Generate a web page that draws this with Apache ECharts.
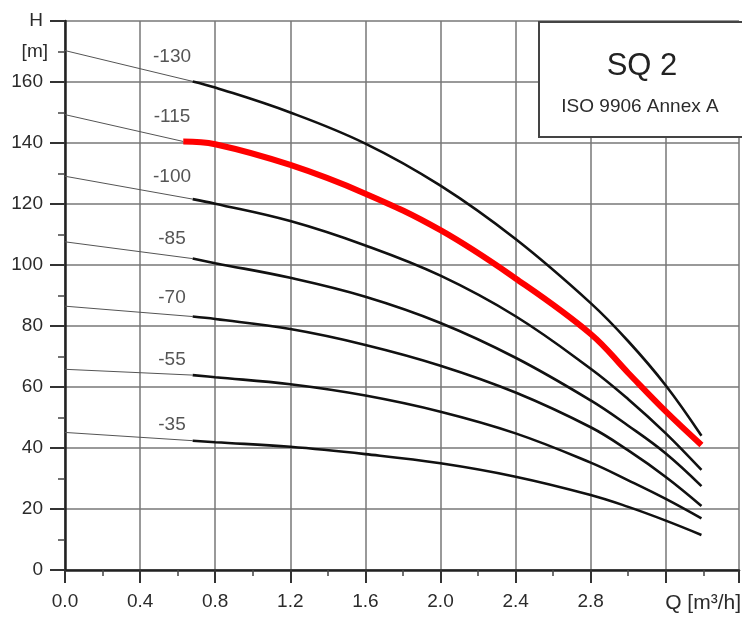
<!DOCTYPE html>
<html>
<head>
<meta charset="utf-8">
<script src="https://cdn.jsdelivr.net/npm/echarts@6/dist/echarts.min.js"></script>
<style>
html,body{margin:0;padding:0;background:#fff;}
#chart{width:742px;height:619px;}
</style>
</head>
<body>
<div id="chart"></div>
<script>
// ---- data ----
const curveNames = ['-130', '-115', '-100', '-85', '-70', '-55', '-35'];
// head at Q = 0 (start of thin extension line)
const hShutoff = [170.3, 149.3, 129.1, 107.6, 86.5, 65.8, 45.1];
// start of the drawn (thick) curve
const qStart = [0.68, 0.63, 0.68, 0.68, 0.68, 0.68, 0.68];
const hStart = [160.2, 140.5, 121.6, 102.1, 83.1, 63.9, 42.4];
// common flow points along the thick curves
const qPoints = [0.8, 1.2, 1.6, 2.0, 2.4, 2.8, 3.0, 3.2, 3.39];
const h130 = [158.2, 150.0, 139.8, 126.0, 108.5, 87.5, 75.0, 60.5, 44.0];
const h115 = [139.6, 132.8, 123.4, 111.4, 95.6, 77.4, 64.6, 52.0, 41.0];
const h100 = [120.1, 114.4, 106.4, 96.5, 83.2, 66.0, 56.0, 44.8, 32.8];
const h85  = [100.6, 95.8, 89.6, 81.0, 69.6, 55.6, 47.3, 38.2, 27.5];
const h70  = [82.3, 79.0, 73.8, 67.0, 58.2, 46.8, 39.2, 30.5, 21.0];
const h55  = [63.2, 60.9, 57.2, 51.9, 44.8, 35.2, 29.4, 23.3, 16.9];
const h35  = [41.9, 40.4, 38.0, 35.0, 30.6, 24.6, 20.7, 16.2, 11.5];
const heads = [h130, h115, h100, h85, h70, h55, h35];
const highlighted = '-115';
// curve label anchors
const labelQ = 0.57;
const labelH = [168.2, 148.5, 128.9, 108.5, 89.2, 68.9, 47.5];
// axis ticks
const xTicks = {min: 0, max: 3.59, interval: 0.4};
const yTicks = {min: 0, max: 180, interval: 20};

const FONT = 'Liberation Sans, Arial, Helvetica, sans-serif';
const TXT = '#2b2b2b';
const chart = echarts.init(document.getElementById('chart'), null, {renderer: 'canvas'});

const series = [];
curveNames.forEach((name, i) => {
  series.push({
    type: 'line', silent: true, symbol: 'none', z: 3,
    data: [[0, hShutoff[i]], [qStart[i], hStart[i]]],
    lineStyle: {color: '#555', width: 1}
  });
  const isRed = name === highlighted;
  series.push({
    type: 'line', silent: true, symbol: 'none', smooth: 0.4,
    z: isRed ? 6 : 4,
    data: [[qStart[i], hStart[i]]].concat(qPoints.map((q, j) => [q, heads[i][j]])),
    lineStyle: {color: isRed ? '#ff0000' : '#111', width: isRed ? 6 : 2.6, cap: 'butt'}
  });
});
series.push({
  type: 'scatter', silent: true, symbolSize: 1, z: 7,
  itemStyle: {color: 'rgba(0,0,0,0)'},
  data: labelH.map((h, i) => [labelQ, h, curveNames[i]]),
  label: {show: true, position: 'inside', formatter: p => p.data[2],
          color: TXT, fontSize: 19, fontFamily: FONT}
});

chart.setOption({
  animation: false,
  backgroundColor: '#fff',
  grid: {left: 65, top: 21, right: 0, height: 549},
  xAxis: {
    type: 'value', min: xTicks.min, max: xTicks.max, interval: xTicks.interval,
    axisLine: {show: true, onZero: false, lineStyle: {color: '#222', width: 2.5}},
    axisTick: {show: true, length: 13, lineStyle: {color: '#333', width: 2}},
    minorTick: {show: true, splitNumber: 2, length: 6, lineStyle: {color: '#444', width: 1.5}},
    splitLine: {show: true, lineStyle: {color: '#777', width: 1.5}},
    axisLabel: {margin: 22, fontSize: 19, color: TXT, fontFamily: FONT,
                formatter: v => v > 3.1 ? '' : v.toFixed(1)}
  },
  yAxis: {
    type: 'value', min: yTicks.min, max: yTicks.max, interval: yTicks.interval,
    axisLine: {show: true, onZero: false, lineStyle: {color: '#222', width: 2.5}},
    axisTick: {show: true, length: 15, lineStyle: {color: '#333', width: 2}},
    minorTick: {show: true, splitNumber: 2, length: 7, lineStyle: {color: '#444', width: 1.5}},
    splitLine: {show: true, lineStyle: {color: '#777', width: 1.5}},
    axisLabel: {margin: 22, fontSize: 19, color: TXT, fontFamily: FONT,
                formatter: v => v === 180 ? 'H' : String(v)}
  },
  series: series
});

const yM = chart.convertToPixel({yAxisIndex: 0}, 170);
chart.setOption({
  graphic: [
    {type: 'text', id: 'unitY', z: 50, x: 48, y: yM,
     style: {text: '[m]', fontSize: 19, fontFamily: FONT, fill: TXT, align: 'right', verticalAlign: 'middle'}},
    {type: 'text', id: 'unitX', z: 50, x: 741, y: 603,
     style: {text: 'Q [m³/h]', fontSize: 21, fontFamily: FONT, fill: TXT, align: 'right', verticalAlign: 'middle'}},
    {type: 'rect', id: 'box', z: 40, shape: {x: 539, y: 22, width: 210, height: 115},
     style: {fill: '#fff', stroke: '#444', lineWidth: 2}},
    {type: 'text', id: 'title', z: 50, x: 642, y: 66,
     style: {text: 'SQ 2', fontSize: 31, fontFamily: FONT, fill: '#222', align: 'center', verticalAlign: 'middle'}},
    {type: 'text', id: 'sub', z: 50, x: 640, y: 107,
     style: {text: 'ISO 9906 Annex A', fontSize: 19, fontFamily: FONT, fill: TXT, align: 'center', verticalAlign: 'middle'}}
  ]
});
</script>
</body>
</html>
